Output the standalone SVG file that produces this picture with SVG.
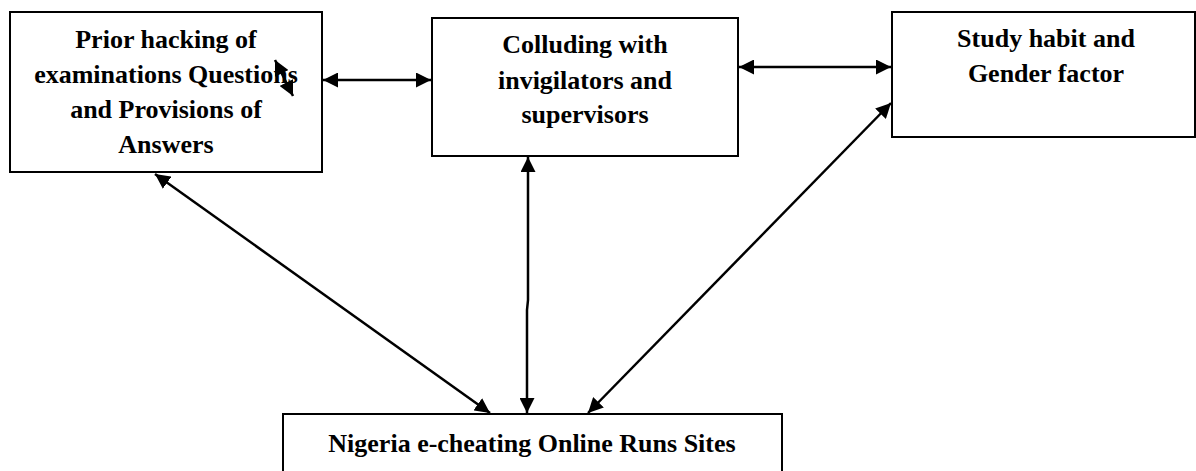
<svg xmlns="http://www.w3.org/2000/svg" width="1196" height="471" viewBox="0 0 1196 471">
<style>
.box{fill:#fff;stroke:#000;stroke-width:2}
.t{font-family:'Liberation Serif','Times New Roman',serif;font-weight:bold;font-size:26px;fill:#000;text-anchor:middle}
.c{stroke:#000;stroke-width:2.5;fill:none;marker-start:url(#ah);marker-end:url(#ah)}
</style>
<defs>
<marker id="ah" viewBox="0 0 15 15" refX="15" refY="7.5" markerWidth="15" markerHeight="15" markerUnits="userSpaceOnUse" orient="auto-start-reverse">
<path d="M0,0 L15,7.5 L0,15 Z" fill="#000"/>
</marker>
</defs>
<rect width="1196" height="471" fill="#fff"/>
<g id="n1">
<rect class="box" x="10" y="12" width="312" height="160"/>
<text class="t" x="166" y="48">Prior hacking of</text>
<text class="t" x="166" y="83">examinations Questions</text>
<text class="t" x="166" y="118">and Provisions of</text>
<text class="t" x="166" y="153">Answers</text>
</g>
<g id="n2">
<rect class="box" x="432" y="18" width="306" height="138"/>
<text class="t" x="585" y="53">Colluding with</text>
<text class="t" x="585" y="89">invigilators and</text>
<text class="t" x="585" y="123">supervisors</text>
</g>
<g id="n3">
<rect class="box" x="892" y="12" width="303" height="125"/>
<text class="t" x="1046" y="47">Study habit and</text>
<text class="t" x="1046" y="82">Gender factor</text>
</g>
<g id="n4">
<rect class="box" x="283" y="414" width="499" height="70"/>
<text class="t" x="532" y="452">Nigeria e-cheating Online Runs Sites</text>
</g>
<g id="connectors">
<line class="c" x1="323" y1="80" x2="431" y2="80"/>
<line class="c" x1="739" y1="67" x2="891" y2="67"/>
<line class="c" x1="275" y1="60" x2="293" y2="96"/>
<line class="c" x1="155" y1="174" x2="490" y2="413"/>
<polyline class="c" points="528,157 528,300 527,310 527,413"/>
<line class="c" x1="891" y1="103" x2="588" y2="413"/>
</g>
</svg>
